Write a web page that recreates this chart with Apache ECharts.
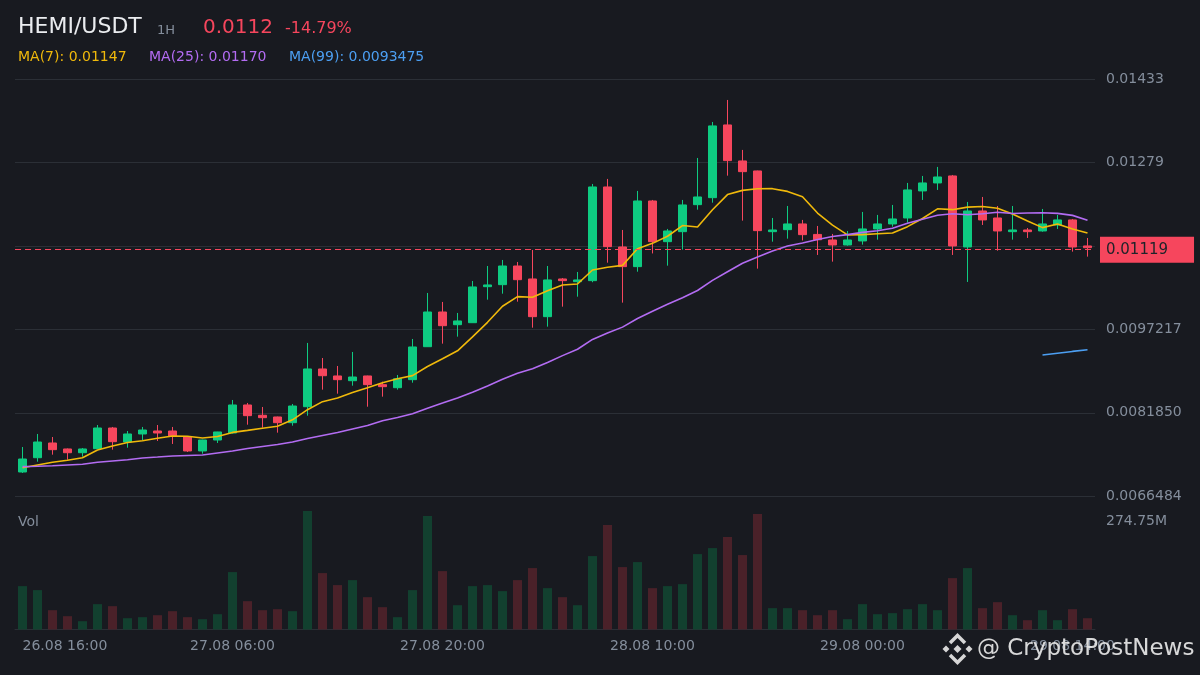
<!DOCTYPE html>
<html>
<head>
<meta charset="utf-8">
<title>HEMI/USDT 1H</title>
<script src="https://cdn.jsdelivr.net/npm/echarts@6/dist/echarts.min.js"></script>
<style>
	html, body { margin: 0; padding: 0; background: #181a20; }
	#chart { width: 1200px; height: 675px; }
</style>
</head>
<body>
<div id="chart"></div>
<script>
// hourly candles, first one is 26.08 16:00
var startDay = 26, startMonth = 8, startHour = 16;

var opens = [
	0.007096, 0.007359, 0.007630, 0.007520, 0.007451, 0.007525, 0.007906, 0.007648, 0.007796, 0.007851,
	0.007851, 0.007740, 0.007483, 0.007685, 0.007814, 0.008330, 0.008140, 0.008109, 0.008004, 0.008298,
	0.008993, 0.008864, 0.008777, 0.008864, 0.008704, 0.008648, 0.008796, 0.009403, 0.010042, 0.009808,
	0.009845, 0.010508, 0.010545, 0.010889, 0.010650, 0.009956, 0.010650, 0.010600, 0.010619, 0.012344,
	0.011239, 0.010877, 0.012086, 0.011337, 0.011521, 0.012018, 0.012147, 0.013486, 0.012823, 0.012639,
	0.011521, 0.011558, 0.011663, 0.011470, 0.011368, 0.011276, 0.011350, 0.011571, 0.011663, 0.011773,
	0.012271, 0.012418, 0.012547, 0.011239, 0.011902, 0.011773, 0.011521, 0.011552, 0.011534, 0.011644,
	0.011737, 0.011258
];
var closes = [
	0.007335, 0.007648, 0.007507, 0.007451, 0.007520, 0.007906, 0.007654, 0.007796, 0.007869, 0.007814,
	0.007759, 0.007483, 0.007685, 0.007833, 0.008330, 0.008133, 0.008096, 0.008004, 0.008311, 0.008993,
	0.008869, 0.008796, 0.008845, 0.008704, 0.008667, 0.008814, 0.009398, 0.010042, 0.009790, 0.009877,
	0.010503, 0.010540, 0.010889, 0.010637, 0.009956, 0.010632, 0.010619, 0.010632, 0.012344, 0.011245,
	0.010877, 0.012086, 0.011337, 0.011534, 0.012013, 0.012160, 0.013468, 0.012829, 0.012626, 0.011540,
	0.011552, 0.011663, 0.011466, 0.011372, 0.011276, 0.011368, 0.011571, 0.011663, 0.011755, 0.012289,
	0.012418, 0.012528, 0.011258, 0.011902, 0.011737, 0.011534, 0.011552, 0.011521, 0.011663, 0.011737,
	0.011239, 0.011226
];
var highs = [
	0.007556, 0.007796, 0.007740, 0.007529, 0.007538, 0.007961, 0.007925, 0.007851, 0.007925, 0.007961,
	0.007925, 0.007748, 0.007690, 0.007836, 0.008422, 0.008367, 0.008293, 0.008115, 0.008348, 0.009472,
	0.009195, 0.009048, 0.009306, 0.008870, 0.008759, 0.008882, 0.009545, 0.010392, 0.010227, 0.010024,
	0.010613, 0.010889, 0.011000, 0.010963, 0.011184, 0.010889, 0.010668, 0.010779, 0.012399, 0.012492,
	0.011552, 0.012271, 0.012105, 0.011571, 0.012105, 0.012878, 0.013541, 0.013946, 0.013026, 0.012645,
	0.011773, 0.011994, 0.011737, 0.011626, 0.011479, 0.011534, 0.011884, 0.011829, 0.012013, 0.012418,
	0.012547, 0.012713, 0.012565, 0.012068, 0.012160, 0.011994, 0.011994, 0.011589, 0.011939, 0.011829,
	0.011755, 0.011405
];
var lows = [
	0.007078, 0.007286, 0.007415, 0.007322, 0.007378, 0.007520, 0.007507, 0.007543, 0.007685, 0.007667,
	0.007612, 0.007464, 0.007433, 0.007630, 0.007805, 0.007967, 0.007912, 0.007820, 0.007949, 0.008133,
	0.008612, 0.008538, 0.008685, 0.008298, 0.008483, 0.008612, 0.008740, 0.009398, 0.009459, 0.009588,
	0.009840, 0.010269, 0.010379, 0.010232, 0.009753, 0.009772, 0.010140, 0.010324, 0.010590, 0.010950,
	0.010214, 0.010784, 0.011120, 0.010895, 0.011190, 0.011926, 0.012055, 0.012552, 0.011724, 0.010840,
	0.011337, 0.011392, 0.011359, 0.011092, 0.010969, 0.011263, 0.011282, 0.011374, 0.011613, 0.011687,
	0.012105, 0.012289, 0.011092, 0.010595, 0.011644, 0.011171, 0.011374, 0.011405, 0.011521, 0.011571,
	0.011153, 0.011061
];
// volume in millions
var volumes = [
	100.6, 91.3, 44.8, 30.9, 19.3, 58.8, 54.1, 26.2, 28.6, 33.2,
	42.5, 28.6, 23.9, 35.5, 133.1, 65.7, 44.8, 47.1, 42.5, 274.75,
	130.8, 102.9, 114.5, 75.0, 51.8, 28.6, 91.3, 263.1, 135.4, 56.4,
	100.6, 102.9, 89.0, 114.5, 142.4, 95.9, 75.0, 56.4, 170.2, 242.2,
	144.7, 156.3, 95.9, 100.6, 105.2, 174.9, 188.8, 214.4, 172.6, 267.8,
	49.5, 49.5, 44.8, 33.2, 44.8, 23.9, 58.8, 35.5, 37.9, 47.1,
	58.8, 44.8, 119.1, 142.4, 49.5, 63.4, 33.2, 21.6, 44.8, 21.6,
	47.1, 26.2
];

// moving average values before the window is full (history not shown in the chart)
var ma7Head = [0.007175, 0.007225, 0.007275, 0.007311, 0.007359, 0.007501];
var ma25Head = [
	0.007194, 0.007201, 0.007212, 0.007225, 0.007238, 0.007275, 0.007299, 0.007322, 0.007354, 0.007372,
	0.007391, 0.007400, 0.007409, 0.007446, 0.007483, 0.007529, 0.007566, 0.007602, 0.007648, 0.007713,
	0.007768, 0.007823, 0.007888, 0.007952
];
var ma99Tail = [0.009250, 0.009283, 0.009316, 0.009348];

var yTicks = [0.0066484, 0.0081850, 0.0097217, 0.0112585, 0.0127952, 0.0143319];
var yTickLabels = ['0.0066484', '0.0081850', '0.0097217', '0.01126', '0.01279', '0.01433'];
var yLabelValues = [0.0066484, 0.0081850, 0.0097217, 0.0127952, 0.0143319];
var volMax = 274.75;
var volMaxLabel = '274.75M';

// last price, kept as text so the marker does not round it
var lastPrice = '0.01119';

var header = { pair: 'HEMI/USDT', interval: '1H', price: '0.0112', change: '-14.79%' };
var maLabels = ['MA(7): 0.01147', 'MA(25): 0.01170', 'MA(99): 0.0093475'];

var UP = '#0ecb81', DOWN = '#f6465d';
var UP_VOL = '#12402f', DOWN_VOL = '#4a2129';
var MA_COLORS = ['#f0b90b', '#b36cf2', '#4c9ff2'];
var AXIS_TEXT = '#848e9c';
var GRID_LINE = '#2b2f36';
var FONT = '"DejaVu Sans", sans-serif';

function pad(n) { return ('0' + n).slice(-2); }

var times = opens.map(function(_, i) {
	var h = startHour + i;
	var d = startDay + Math.floor(h / 24);
	return pad(d) + '.' + pad(startMonth) + ' ' + pad(h % 24) + ':00';
});

function movingAvg(head, period) {
	return closes.map(function(c, i) {
		if (i < head.length) return head[i];
		var s = 0;
		for (var k = i - period + 1; k <= i; k++) s += closes[k];
		return +(s / period).toFixed(7);
	});
}

var ma7 = movingAvg(ma7Head, 7);
var ma25 = movingAvg(ma25Head, 25);
var ma99 = closes.map(function(c, i) {
	var off = closes.length - ma99Tail.length;
	return i >= off ? ma99Tail[i - off] : null;
});

var candles = opens.map(function(o, i) { return [o, closes[i], lows[i], highs[i]]; });
var volBars = volumes.map(function(v, i) {
	return { value: v, itemStyle: { color: closes[i] >= opens[i] ? UP_VOL : DOWN_VOL } };
});

function priceLabel(v) {
	var best = 0;
	for (var i = 1; i < yTicks.length; i++) {
		if (Math.abs(yTicks[i] - v) < Math.abs(yTicks[best] - v)) best = i;
	}
	return yTickLabels[best];
}

function maLine(name, data, color) {
	return {
		name: name, type: 'line', data: data, xAxisIndex: 0, yAxisIndex: 0,
		symbol: 'none', smooth: false, connectNulls: false, silent: true,
		lineStyle: { color: color, width: 1.6 }, z: 3
	};
}

function txt(x, y, text, size, color) {
	return {
		type: 'text', x: x, y: y, silent: true,
		style: { text: text, fill: color, font: size + 'px ' + FONT, verticalAlign: 'middle' }
	};
}

var chart = echarts.init(document.getElementById('chart'), null, { renderer: 'canvas' });

var priceLineStyle = { color: DOWN, type: [6, 4], width: 1.2 };
var ma7Series = maLine('MA7', ma7, MA_COLORS[0]);
ma7Series.markLine = {
	silent: true, symbol: ['none', 'none'], animation: false,
	data: [{ yAxis: lastPrice, lineStyle: priceLineStyle }],
	lineStyle: priceLineStyle,
	label: {
		position: 'end', distance: 5, formatter: lastPrice,
		color: '#1e2329', backgroundColor: DOWN, fontSize: 15, lineHeight: 16,
		padding: [5, 26, 5, 6]
	}
};

var logoFill = '#d6d6d6';
var option = {
	backgroundColor: '#181a20',
	animation: false,
	textStyle: { fontFamily: FONT },
	grid: [
		{ left: 15, width: 1080, top: 79, height: 417.3 },
		{ left: 15, width: 1080, top: 511, height: 118.5 }
	],
	xAxis: [
		{
			type: 'category', gridIndex: 0, data: times, boundaryGap: true,
			axisLine: { show: false }, axisTick: { show: false }, axisLabel: { show: false }, splitLine: { show: false }
		},
		{
			type: 'category', gridIndex: 1, data: times, boundaryGap: true,
			axisLine: { lineStyle: { color: GRID_LINE, width: 1 } },
			axisTick: { show: false },
			splitLine: { show: false },
			axisLabel: { interval: 13, color: AXIS_TEXT, fontSize: 14, margin: 10, alignMinLabel: 'left' }
		}
	],
	yAxis: [
		{
			type: 'value', gridIndex: 0, position: 'right', min: yTicks[0], max: yTicks[yTicks.length - 1],
			axisLine: { show: false },
			axisTick: { show: false, customValues: yTicks },
			splitLine: { show: true, lineStyle: { color: GRID_LINE, width: 1 } },
			axisLabel: { customValues: yLabelValues, formatter: priceLabel, color: AXIS_TEXT, fontSize: 14, margin: 11 }
		},
		{
			type: 'value', gridIndex: 1, position: 'right', min: 0, max: volMax,
			axisLine: { show: false }, axisTick: { show: false }, splitLine: { show: false },
			axisLabel: {
				customValues: [volMax], formatter: function() { return volMaxLabel; },
				color: AXIS_TEXT, fontSize: 14, margin: 11, verticalAlign: 'top', padding: [3, 0, 0, 0]
			}
		}
	],
	series: [
		{
			name: 'K', type: 'candlestick', data: candles, xAxisIndex: 0, yAxisIndex: 0,
			barWidth: 9,
			itemStyle: { color: UP, color0: DOWN, borderColor: UP, borderColor0: DOWN, borderWidth: 1 },
			z: 2
		},
		ma7Series,
		maLine('MA25', ma25, MA_COLORS[1]),
		maLine('MA99', ma99, MA_COLORS[2]),
		{
			name: 'Vol', type: 'bar', data: volBars, xAxisIndex: 1, yAxisIndex: 1,
			barWidth: 9, silent: true
		}
	],
	graphic: [
		txt(18, 27, header.pair, 22, '#eaecef'),
		txt(157, 30.5, header.interval, 13, AXIS_TEXT),
		txt(203, 27.5, header.price, 20, DOWN),
		txt(285, 28.5, header.change, 16, DOWN),
		txt(18, 57.5, maLabels[0], 14, MA_COLORS[0]),
		txt(149, 57.5, maLabels[1], 14, MA_COLORS[1]),
		txt(289, 57.5, maLabels[2], 14, MA_COLORS[2]),
		txt(18, 522, 'Vol', 14, AXIS_TEXT),
		// watermark
		{ type: 'polyline', silent: true, z: 100, shape: { points: [[950, 643], [957.5, 635.5], [965, 643]] }, style: { stroke: logoFill, lineWidth: 3.5, fill: null } },
		{ type: 'polyline', silent: true, z: 100, shape: { points: [[950, 655], [957.5, 662.5], [965, 655]] }, style: { stroke: logoFill, lineWidth: 3.5, fill: null } },
		{ type: 'polygon', silent: true, z: 100, shape: { points: [[957.5, 645], [961.5, 649], [957.5, 653], [953.5, 649]] }, style: { fill: logoFill } },
		{ type: 'polygon', silent: true, z: 100, shape: { points: [[946, 645.5], [949.5, 649], [946, 652.5], [942.5, 649]] }, style: { fill: logoFill } },
		{ type: 'polygon', silent: true, z: 100, shape: { points: [[969, 645.5], [972.5, 649], [969, 652.5], [965.5, 649]] }, style: { fill: logoFill } },
		{
			type: 'text', x: 977, y: 649, z: 100, silent: true,
			style: { text: '@ CryptoPostNews', fill: 'rgba(232,232,232,0.92)', font: '23px ' + FONT, verticalAlign: 'middle' }
		}
	]
};

chart.setOption(option);
</script>
</body>
</html>
